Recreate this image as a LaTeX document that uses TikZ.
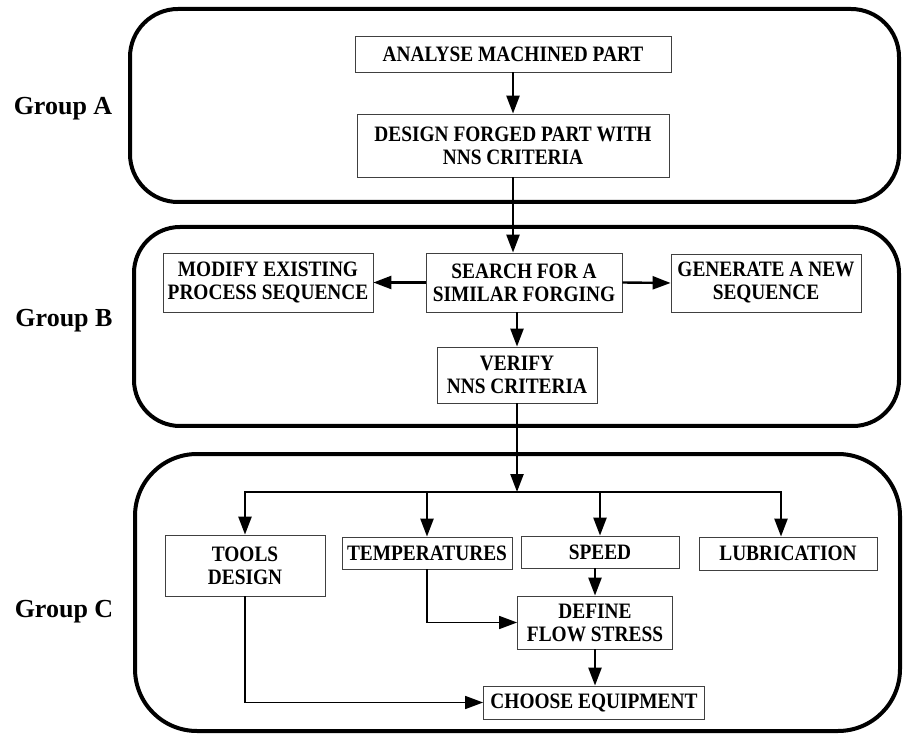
\documentclass[tikz,border=0pt]{standalone}
\usepackage{fontspec}
\setmainfont{Liberation Serif}
\newfontfamily\narrowfont{Liberation Serif}[FakeStretch=0.88]
\usetikzlibrary{arrows.meta}

\tikzset{
  box/.style={draw=black!75, line width=0.8pt, align=center, inner sep=0pt,
    font=\narrowfont\fontsize{22}{23}\selectfont\bfseries},
  group/.style={line width=4pt, rounded corners=#1},
  group/.default=48pt,
  grouplabel/.style={font=\fontsize{26}{30}\selectfont\bfseries, anchor=base},
  flow/.style={line width=2.4pt, -{Triangle[length=18pt,width=13pt]}},
  thinflow/.style={line width=1.6pt, -{Triangle[length=18pt,width=13pt]}},
}

\begin{document}
\begin{tikzpicture}[x=1pt,y=-1pt]
\useasboundingbox (0,0) rectangle (903,735);

% the three groups
\draw[group=48pt] (130,9) rectangle (899,202);
\draw[group=46pt] (134,227) rectangle (899,426);
\draw[group=62pt] (135,454) rectangle (900,731);

\node[grouplabel] (labA) at (63,115) {Group A};
\node[grouplabel] (labB) at (64,327) {Group B};
\node[grouplabel] (labC) at (64,617) {Group C};

% group A
\node[box, minimum width=316pt, minimum height=36pt] (analyse) at (513,54) {ANALYSE MACHINED PART};
\node[box, minimum width=312pt, minimum height=63pt] (design) at (513,145.5) {DESIGN FORGED PART WITH\\NNS CRITERIA};

% group B
\node[box, minimum width=196pt, minimum height=59pt] (search) at (524,282.5) {SEARCH FOR A\\SIMILAR FORGING};
\node[box, minimum width=210pt, minimum height=59pt] (modify) at (268,282.5) {MODIFY EXISTING\\PROCESS SEQUENCE};
\node[box, minimum width=190pt, minimum height=58pt] (generate) at (766,283) {GENERATE A NEW\\SEQUENCE};
\node[box, minimum width=160pt, minimum height=56pt] (verify) at (517,375) {VERIFY\\NNS CRITERIA};

% group C
\coordinate (split) at (517,492);
\node[box, minimum width=160pt, minimum height=61pt] (tools) at (245,565.5) {TOOLS\\DESIGN};
\node[box, minimum width=170pt, minimum height=32pt] (temps) at (427,553) {TEMPERATURES};
\node[box, minimum width=158pt, minimum height=32pt] (speed) at (600,552) {SPEED};
\node[box, minimum width=178pt, minimum height=33pt] (lubr) at (788,553.5) {LUBRICATION};
\node[box, minimum width=155pt, minimum height=53pt] (dfs) at (595,622.5) {DEFINE\\FLOW STRESS};
\node[box, minimum width=221pt, minimum height=33pt] (choose) at (594,702.5) {CHOOSE EQUIPMENT};

% connectors
\draw[flow] (analyse) -- (design);
\draw[flow] (design.south) -- (design.south |- search.north);
\draw[flow] (search.west) -- (modify.east);
\draw[flow] (search.east) -- (generate.west);
\draw[flow] (search.south -| verify.north) -- (verify.north);
\draw[flow] (verify) -- (split);

\draw[flow] (split) -| (tools);
\draw[flow] (split) -| (temps);
\draw[flow] (split) -| (speed);
\draw[flow] (split) -| ([xshift=-7pt]lubr.north);

\draw[flow] (speed.south -| dfs.north) -- (dfs.north);
\draw[flow] (dfs.south) -- (dfs.south |- choose.north);
\draw[thinflow] (temps.south) |- (dfs.west);
\draw[thinflow] (tools.south) |- (choose.west);
\end{tikzpicture}
\end{document}
